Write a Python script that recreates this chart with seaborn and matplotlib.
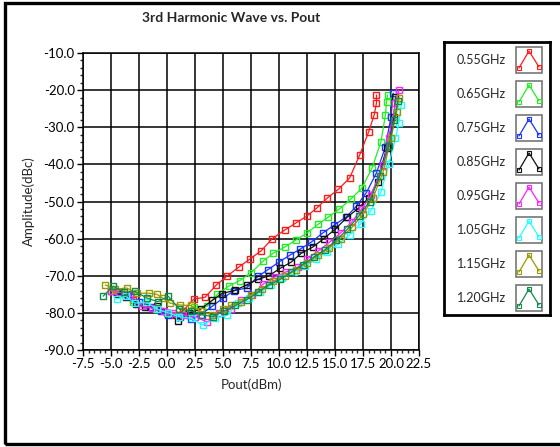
#!/usr/bin/env python3
"""3rd harmonic wave vs. output power, one curve per frequency."""

import matplotlib
matplotlib.use("Agg")
import matplotlib.pyplot as plt
from matplotlib.patches import Rectangle
from matplotlib.ticker import MultipleLocator, AutoMinorLocator
import seaborn as sns

# ---- data ----
labels = ["0.55GHz", "0.65GHz", "0.75GHz", "0.85GHz",
          "0.95GHz", "1.05GHz", "1.15GHz", "1.20GHz"]
colors = ["#ff1a1a", "#22ee22", "#1a33ff", "#111111",
          "#ff22ff", "#22ffff", "#999900", "#128a4a"]

x_055 = [-5.0, -4.0, -3.0, -2.0, -1.0, 0.0, 0.6, 1.4, 2.4, 3.4, 4.4, 5.4, 6.4, 7.4,
         8.4, 9.4, 10.5, 11.5, 12.5, 13.4, 14.3, 15.3, 16.3, 17.2, 18.0, 18.5, 18.7, 18.7]
y_055 = [-74.0, -75.0, -76.5, -78.0, -79.0, -80.0, -80.5, -79.5, -76.3, -75.8, -72.5, -70.0,
         -67.7, -65.5, -63.3, -60.0, -57.7, -55.8, -53.9, -51.7, -49.1, -46.7, -43.7, -37.5,
         -31.3, -26.7, -23.5, -21.3]

x_065 = [-5.0, -4.0, -3.0, -2.0, -1.0, 0.0, 1.0, 2.4, 3.6, 4.5, 5.5, 6.5, 7.5, 8.6,
         9.5, 10.5, 11.5, 12.5, 13.5, 14.4, 15.4, 16.4, 17.4, 18.3, 19.1, 19.5, 19.6, 19.7]
y_065 = [-74.0, -75.0, -77.0, -78.0, -79.0, -80.0, -80.5, -78.5, -78.2, -75.0, -72.8, -71.3,
         -69.2, -66.0, -63.9, -62.3, -60.4, -58.5, -56.1, -54.2, -52.0, -49.4, -46.4, -41.0,
         -34.0, -26.7, -23.2, -21.3]

x_075 = [-4.5, -3.5, -2.5, -1.5, -0.5, 0.1, 1.2, 2.1, 3.0, 4.05, 5.0, 6.0, 7.1, 8.1,
         9.0, 10.0, 11.0, 11.9, 12.9, 13.9, 14.9, 16.0, 16.9, 17.8, 18.7, 19.5, 20.0, 20.2]
y_075 = [-74.5, -75.5, -77.0, -78.5, -79.5, -80.6, -81.2, -81.7, -80.5, -78.2, -76.0, -74.0,
         -73.3, -70.2, -68.4, -66.3, -64.4, -62.8, -60.9, -58.5, -56.4, -54.2, -51.3, -47.6,
         -42.3, -35.3, -27.2, -20.8]

x_085 = [-4.5, -3.65, -2.8, -1.95, -0.9, 0.1, 1.0, 2.0, 3.0, 4.05, 4.9, 6.1, 7.1, 8.1,
         9.1, 10.1, 11.1, 12.0, 13.0, 14.0, 15.0, 16.1, 17.1, 18.0, 18.8, 19.6, 20.25, 20.4]
y_085 = [-74.8, -75.8, -77.5, -78.5, -78.2, -80.0, -82.2, -80.0, -79.0, -76.6, -74.8, -73.9,
         -72.5, -71.0, -70.0, -68.0, -66.3, -63.9, -62.3, -60.0, -57.5, -54.2, -51.8, -49.1,
         -44.8, -35.6, -27.2, -21.9]

x_095 = [-5.0, -4.3, -3.3, -2.2, -1.3, -0.3, 0.5, 1.4, 2.5, 3.6, 4.6, 5.7, 6.6, 7.6, 8.6,
         9.6, 10.6, 11.7, 12.5, 13.5, 14.5, 15.5, 16.5, 17.4, 18.2, 19.3, 19.8, 20.4, 20.7]
y_095 = [-74.0, -74.4, -75.2, -78.2, -78.7, -79.5, -80.0, -80.6, -81.0, -82.5, -80.1, -79.0,
         -76.6, -75.2, -72.2, -70.4, -69.0, -67.7, -65.5, -63.3, -61.0, -58.5, -55.5, -52.0,
         -48.3, -40.2, -32.9, -23.5, -20.0]

x_105 = [-4.5, -3.7, -2.85, -1.9, -0.9, 0.1, 1.1, 2.2, 3.2, 4.3, 5.4, 6.3, 7.3, 8.3, 9.3,
         10.3, 11.3, 12.3, 13.3, 14.3, 15.3, 16.3, 17.3, 18.2, 19.1, 19.8, 20.4, 20.7, 20.9]
y_105 = [-76.3, -75.5, -77.4, -77.0, -79.0, -80.0, -81.0, -81.5, -83.3, -81.5, -80.6, -77.4,
         -76.0, -74.5, -72.5, -70.5, -69.0, -67.5, -65.5, -63.5, -61.5, -59.0, -56.0, -52.5,
         -47.5, -40.0, -33.0, -28.9, -24.0]

x_115 = [-5.5, -4.6, -3.6, -2.7, -1.6, -0.9, -0.4, 0.3, 1.2, 2.1, 3.0, 4.0, 5.0, 5.7, 6.6,
         7.5, 8.5, 9.5, 10.5, 11.5, 12.5, 13.5, 14.5, 15.5, 16.5, 17.5, 18.4, 19.3, 20.0, 20.5, 20.7]
y_115 = [-72.5, -73.6, -73.3, -74.7, -74.7, -75.0, -76.0, -77.4, -77.9, -78.0, -79.5, -80.5,
         -79.0, -77.9, -77.0, -75.2, -73.5, -71.5, -70.0, -68.5, -66.5, -64.5, -62.5, -60.0,
         -57.0, -53.5, -49.0, -42.0, -33.0, -26.0, -22.0]

x_120 = [-5.7, -4.8, -3.8, -2.85, -1.8, -0.8, 0.1, 1.1, 2.1, 3.1, 4.1, 5.1, 6.1, 7.1, 8.1,
         9.1, 10.1, 11.1, 12.1, 13.1, 14.1, 15.1, 16.1, 17.1, 18.1, 19.0, 19.8, 20.3, 20.6]
y_120 = [-75.5, -72.8, -74.5, -74.2, -76.0, -77.0, -75.5, -79.0, -79.5, -80.5, -81.0, -79.5,
         -78.0, -76.5, -74.5, -72.5, -71.0, -69.0, -67.0, -65.0, -63.0, -60.5, -57.5, -54.0,
         -50.0, -43.0, -35.0, -28.0, -23.0]

series_x = [x_055, x_065, x_075, x_085, x_095, x_105, x_115, x_120]
series_y = [y_055, y_065, y_075, y_085, y_095, y_105, y_115, y_120]


def main():
    sns.set_style("white")
    plt.rcParams["font.family"] = ["Lato", "DejaVu Sans"]

    fig = plt.figure(figsize=(5.6, 4.47), dpi=100)

    # outer frame of the panel
    fig.patches.append(Rectangle((5 / 560, 3 / 447), 1.0, 441 / 447,
                                 transform=fig.transFigure, fill=False,
                                 edgecolor="black", linewidth=2.4, zorder=0))

    ax = fig.add_axes([83 / 560, 1 - 350 / 447, 336 / 560, 297 / 447])

    for xs, ys, c in zip(series_x, series_y, colors):
        sns.lineplot(x=xs, y=ys, ax=ax, color=c, sort=False, estimator=None,
                     marker="s", markersize=5, markerfacecolor="none",
                     markeredgecolor=c, markeredgewidth=1.0, linewidth=0.9)

    ax.set_xlim(-7.5, 22.5)
    ax.set_ylim(-90, -10)
    ax.xaxis.set_major_locator(MultipleLocator(2.5))
    ax.yaxis.set_major_locator(MultipleLocator(10))
    ax.xaxis.set_minor_locator(AutoMinorLocator(5))
    ax.yaxis.set_minor_locator(AutoMinorLocator(5))
    ax.xaxis.set_major_formatter(lambda v, p: f"{v:.1f}")
    ax.yaxis.set_major_formatter(lambda v, p: f"{v:.1f}")
    ax.grid(True, which="major", color="black", linewidth=1.1)
    ax.tick_params(which="major", direction="out", length=4, width=1,
                   labelsize=9.5, colors="black", bottom=True, left=True, pad=2)
    ax.tick_params(which="minor", direction="out", length=2.5, width=1,
                   bottom=True, left=True)
    for sp in ax.spines.values():
        sp.set_color("black")
        sp.set_linewidth(1.1)
    ax.set_xlabel("Pout(dBm)", fontsize=9.5, labelpad=6)
    ax.set_ylabel("Amplitude(dBc)", fontsize=9.5, labelpad=6)

    fig.text(231 / 560, 1 - 18 / 447, "3rd Harmonic Wave vs. Pout",
             ha="center", va="center", fontsize=10, fontweight="bold")

    # legend panel
    lax = fig.add_axes([444 / 560, 1 - 315 / 447, 106 / 560, 273 / 447])
    lax.set_xlim(0, 106)
    lax.set_ylim(273, 0)
    lax.set_xticks([])
    lax.set_yticks([])
    for sp in lax.spines.values():
        sp.set_color("black")
        sp.set_linewidth(2)
    for i, (lab, c) in enumerate(zip(labels, colors)):
        cy = 18 + i * 34
        lax.text(62, cy, lab, ha="right", va="center", fontsize=9)
        lax.add_patch(Rectangle((72, cy - 13), 26, 26, fill=False,
                                edgecolor="#777777", linewidth=1.2))
        lax.plot([75, 85, 95], [cy + 8, cy - 9, cy + 7], color=c, linewidth=0.9,
                 marker="s", markersize=3.5, markerfacecolor="none",
                 markeredgecolor=c, markeredgewidth=0.8)

    fig.savefig("out.png", dpi=100)
    plt.close(fig)


if __name__ == "__main__":
    main()
